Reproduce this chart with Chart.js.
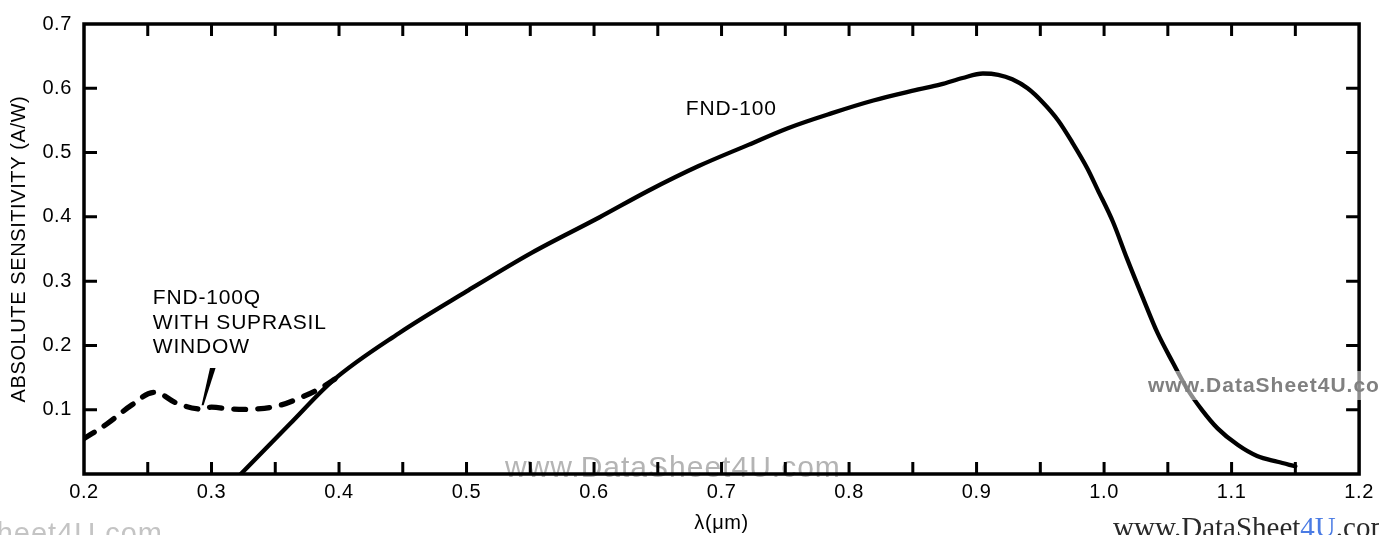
<!DOCTYPE html>
<html>
<head>
<meta charset="utf-8">
<script src="https://cdn.jsdelivr.net/npm/chart.js@4.4.1/dist/chart.umd.min.js"></script>
<style>
  html, body { margin: 0; padding: 0; background: #fff; }
  #wrap { width: 1379px; height: 535px; }
</style>
</head>
<body>
<div id="wrap"><canvas id="chart"></canvas></div>
<script>
// FND-100 (solid) and FND-100Q with Suprasil window (dashed)
const FND100_X = [0.323, 0.361, 0.395, 0.447, 0.5, 0.551, 0.604, 0.643, 0.682, 0.721, 0.752, 0.786, 0.819, 0.852, 0.872, 0.889, 0.905, 0.917, 0.928, 0.94, 0.952, 0.964, 0.975, 0.987, 0.995, 1.007, 1.018, 1.03, 1.042, 1.054, 1.065, 1.077, 1.089, 1.105, 1.12, 1.136, 1.15];
const FND100_Y = [0.0, 0.077, 0.145, 0.219, 0.284, 0.344, 0.399, 0.441, 0.479, 0.512, 0.538, 0.561, 0.581, 0.597, 0.606, 0.616, 0.623, 0.621, 0.614, 0.6, 0.578, 0.55, 0.516, 0.475, 0.442, 0.392, 0.335, 0.276, 0.219, 0.173, 0.133, 0.099, 0.071, 0.045, 0.028, 0.019, 0.012];
const FND100Q_X = [0.2, 0.218, 0.238, 0.255, 0.273, 0.29, 0.3, 0.315, 0.333, 0.352, 0.37, 0.385, 0.4];
const FND100Q_Y = [0.055, 0.078, 0.108, 0.127, 0.11, 0.101, 0.104, 0.101, 0.101, 0.106, 0.119, 0.133, 0.152];

const X_TICK_MARKS = [0.25, 0.3, 0.35, 0.4, 0.45, 0.5, 0.55, 0.6, 0.65, 0.7, 0.75, 0.8, 0.85, 0.9, 0.95, 1.0, 1.05, 1.1, 1.15];
const Y_TICK_MARKS = [0.1, 0.2, 0.3, 0.4, 0.5, 0.6];

const LABEL_FND100 = { x: 0.672, y: 0.558, lines: ["FND-100"] };
const LABEL_FND100Q = { x: 0.254, y: 0.264, lines: ["FND-100Q", "WITH SUPRASIL", "WINDOW"] };
const POINTER = [[0.301, 0.165], [0.293, 0.107]];

const SANS = "'Liberation Sans', Arial, Helvetica, sans-serif";
const SERIF = "'Liberation Serif', 'Times New Roman', serif";

function toPoints(xs, ys) {
  return xs.map((x, i) => ({ x: x, y: ys[i] }));
}

const frameTicks = {
  id: "frameTicks",
  beforeDraw(chart) {
    chart.ctx.letterSpacing = "0.6px";
  },
  beforeDatasetsDraw(chart) {
    const ctx = chart.ctx;
    ctx.save();
    ctx.letterSpacing = "1px";
    ctx.fillStyle = "#b4b4b4";
    ctx.font = "30px " + SANS;
    ctx.textAlign = "left";
    ctx.textBaseline = "alphabetic";
    ctx.fillText("www.DataSheet4U.com", 505, 477);
    ctx.fillStyle = "#c4c4c4";
    ctx.font = "29px " + SANS;
    ctx.textAlign = "right";
    ctx.fillText("www.DataSheet4U.com", 163, 543);
    ctx.restore();
  },
  afterDatasetsDraw(chart) {
    const { ctx, chartArea: a, scales: { x, y } } = chart;
    ctx.save();
    ctx.strokeStyle = "#000";
    ctx.lineWidth = 3.5;
    ctx.strokeRect(a.left, a.top, a.right - a.left, a.bottom - a.top);

    ctx.lineWidth = 3;
    ctx.beginPath();
    X_TICK_MARKS.forEach((v) => {
      const px = x.getPixelForValue(v);
      ctx.moveTo(px, a.bottom);
      ctx.lineTo(px, a.bottom - 12);
      ctx.moveTo(px, a.top);
      ctx.lineTo(px, a.top + 12);
    });
    Y_TICK_MARKS.forEach((v) => {
      const py = y.getPixelForValue(v);
      ctx.moveTo(a.left, py);
      ctx.lineTo(a.left + 13, py);
      ctx.moveTo(a.right, py);
      ctx.lineTo(a.right - 13, py);
    });
    ctx.stroke();

    // curve labels
    ctx.fillStyle = "#000";
    ctx.letterSpacing = "0.8px";
    ctx.font = "21px " + SANS;
    ctx.textAlign = "left";
    ctx.textBaseline = "alphabetic";
    [LABEL_FND100, LABEL_FND100Q].forEach((lab) => {
      const lx = x.getPixelForValue(lab.x);
      const ly = y.getPixelForValue(lab.y);
      lab.lines.forEach((t, i) => ctx.fillText(t, lx, ly + i * 24.5));
    });

    // pointer stroke from the label to the dashed curve
    const tx = x.getPixelForValue(POINTER[0][0]);
    const ty = y.getPixelForValue(POINTER[0][1]);
    const bx = x.getPixelForValue(POINTER[1][0]);
    const by = y.getPixelForValue(POINTER[1][1]);
    ctx.beginPath();
    ctx.moveTo(tx - 2.8, ty);
    ctx.lineTo(tx + 2.8, ty);
    ctx.lineTo(bx + 1, by);
    ctx.lineTo(bx - 1, by);
    ctx.closePath();
    ctx.fill();
    ctx.restore();
  },
  afterDraw(chart) {
    const ctx = chart.ctx;
    ctx.save();
    ctx.fillStyle = "rgba(255,255,255,0.55)";
    ctx.fillRect(1143, 371, 236, 29);
    ctx.letterSpacing = "1px";
    ctx.fillStyle = "#808080";
    ctx.font = "bold 21px " + SANS;
    ctx.textAlign = "left";
    ctx.textBaseline = "alphabetic";
    ctx.fillText("www.DataSheet4U.com", 1148, 392);

    ctx.letterSpacing = "0px";
    ctx.font = "29px " + SERIF;
    let px = 1113;
    [["www.DataSheet", "#2a2a2a"], ["4U", "#4a7be4"], [".com", "#2a2a2a"]].forEach(([t, c]) => {
      ctx.fillStyle = c;
      ctx.fillText(t, px, 537);
      px += ctx.measureText(t).width;
    });
    ctx.restore();
  },
};

new Chart(document.getElementById("chart"), {
  type: "line",
  data: {
    datasets: [
      {
        label: "FND-100",
        data: toPoints(FND100_X, FND100_Y),
        borderColor: "#000",
        borderWidth: 4.3,
        pointRadius: 0,
        cubicInterpolationMode: "monotone",
        borderCapStyle: "round",
        borderJoinStyle: "round",
        fill: false,
      },
      {
        label: "FND-100Q",
        data: toPoints(FND100Q_X, FND100Q_Y),
        borderColor: "#000",
        borderWidth: 5.3,
        borderDash: [12, 12],
        borderCapStyle: "round",
        pointRadius: 0,
        tension: 0.4,
        fill: false,
      },
    ],
  },
  options: {
    responsive: true,
    maintainAspectRatio: false,
    animation: false,
    layout: { padding: { top: 20, right: 17, left: 0, bottom: 0 } },
    plugins: { legend: { display: false }, tooltip: { enabled: false } },
    scales: {
      x: {
        type: "linear",
        min: 0.2,
        max: 1.2,
        afterFit: (s) => { s.height = 61; },
        ticks: {
          stepSize: 0.1,
          padding: 6,
          color: "#000",
          font: { family: SANS, size: 20 },
          callback: (v) => v.toFixed(1),
        },
        grid: { display: false, drawTicks: false },
        border: { display: false },
        title: {
          display: true,
          text: "λ(μm)",
          color: "#000",
          font: { family: SANS, size: 20 },
          padding: { top: 0, bottom: 0 },
        },
      },
      y: {
        min: 0,
        max: 0.7,
        afterFit: (s) => { s.width = 84; },
        ticks: {
          stepSize: 0.1,
          padding: 12,
          color: "#000",
          font: { family: SANS, size: 20 },
          callback: (v) => (v === 0 ? "" : v.toFixed(1)),
        },
        grid: { display: false, drawTicks: false },
        border: { display: false },
        title: {
          display: true,
          text: "ABSOLUTE SENSITIVITY (A/W)",
          color: "#000",
          font: { family: SANS, size: 20 },
          padding: { top: 7, bottom: 0 },
        },
      },
    },
  },
  plugins: [frameTicks],
});
</script>
</body>
</html>
